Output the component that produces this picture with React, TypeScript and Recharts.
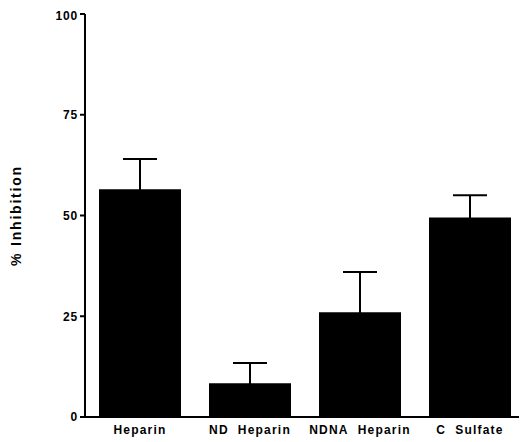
import { BarChart, Bar, XAxis, YAxis, ErrorBar } from "recharts";

const CATEGORIES = ["Heparin", "ND\u00a0\u00a0Heparin", "NDNA\u00a0\u00a0Heparin", "C\u00a0\u00a0Sulfate"];
const INHIBITION = [56.5, 8.4, 26, 49.5];
const ERRORS = [7.5, 5, 10, 5.5];
const Y_TICKS = [0, 25, 50, 75, 100];

// lower side kept inside the bar so only the upper whisker shows
const data = CATEGORIES.map((name, i) => ({
  name,
  value: INHIBITION[i],
  err: [1, ERRORS[i]],
}));

const FONT = "'Liberation Sans', Arial, sans-serif";

export default function App() {
  return (
    <BarChart
      width={519}
      height={434}
      data={data}
      margin={{ top: 6, right: 2, bottom: 0, left: 0 }}
      barSize={82}
    >
      <XAxis
        dataKey="name"
        height={25}
        tickLine={false}
        axisLine={{ stroke: "#000", strokeWidth: 2 }}
        tick={{ fill: "#000", fontSize: 12, fontWeight: 700, fontFamily: FONT, letterSpacing: 1.2 }}
        tickMargin={2}
        interval={0}
      />
      <YAxis
        width={77}
        domain={[0, 100]}
        ticks={Y_TICKS}
        axisLine={{ stroke: "#000", strokeWidth: 2 }}
        tickLine={{ stroke: "#000", strokeWidth: 2 }}
        tickSize={5}
        tickMargin={2}
        tick={{ fill: "#000", fontSize: 12, fontWeight: 700, fontFamily: FONT, letterSpacing: 0.8 }}
        label={{
          value: "% Inhibition",
          angle: -90,
          position: "insideLeft",
          offset: 0,
          dx: 8,
          style: { fill: "#000", fontSize: 14, fontWeight: 700, fontFamily: FONT, letterSpacing: 1.8, textAnchor: "middle" },
        }}
      />
      <Bar dataKey="value" fill="#000" isAnimationActive={false}>
        <ErrorBar dataKey="err" direction="y" width={17} stroke="#000" strokeWidth={2} isAnimationActive={false} />
      </Bar>
    </BarChart>
  );
}
